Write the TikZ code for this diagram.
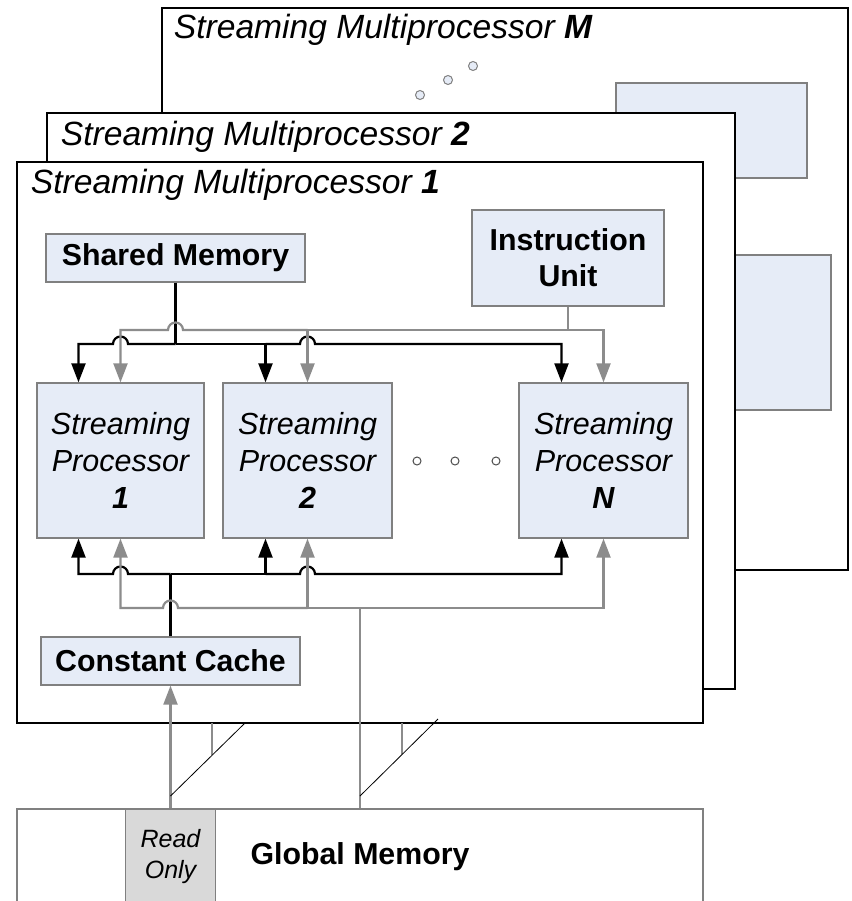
\documentclass[tikz,border=0pt]{standalone}
\usepackage{fontspec}
\setmainfont{Liberation Sans}
\usetikzlibrary{arrows.meta}
\definecolor{boxfill}{RGB}{230,236,247}
\definecolor{boxline}{RGB}{128,128,128}
\definecolor{wire}{RGB}{140,140,140}
\definecolor{rofill}{RGB}{217,217,217}
\tikzset {>={Triangle[length=19pt,width=14pt]}}
\tikzset{
  frame/.style={draw,line width=2.6pt,fill=white,inner sep=0pt},
  unit/.style={draw=boxline,line width=1.3pt,fill=boxfill,inner sep=0pt,align=center},
  lbl/.style={font=\fontsize{30.3}{36}\selectfont\bfseries},
  sptext/.style={font=\fontsize{30.5}{37}\selectfont\itshape},
  title/.style={font=\fontsize{33.6}{38}\selectfont\itshape,inner sep=0pt,anchor=base west},
  blk/.style={line width=2.2pt,black},
  gry/.style={line width=2.2pt,wire},
}

\begin{document}
\begin{tikzpicture}[x=1pt,y=-1pt]
\useasboundingbox (0,0) rectangle (851,901);
\clip (0,0) rectangle (851,901);
% the stack of multiprocessors
\node[frame,minimum width=686pt,minimum height=562pt] (smM) at (505,289) {};
\node[title] (tM) at ([shift={(13,32)}]smM.north west) {Streaming Multiprocessor \textbf{M}};
\node[unit,minimum width=191pt,minimum height=95pt] (instrM) at (711.5,130.5) {};
\node[unit,minimum width=167pt,minimum height=155pt] (spM) at (747.5,332.5) {};
\foreach \x/\y in {420/95,448/80,473/66}
  \filldraw[draw=boxline,fill=boxfill,line width=1pt] (\x,\y) circle(4.5pt);
\node[frame,minimum width=688pt,minimum height=576pt] (sm2) at (391,401) {};
\node[title] (t2) at ([shift={(15,34)}]sm2.north west) {Streaming Multiprocessor \textbf{2}};
\node[frame,minimum width=686pt,minimum height=561pt] (sm1) at (360,442.5) {};
\node[title] (t1) at ([shift={(15,33)}]sm1.north west) {Streaming Multiprocessor \textbf{1}};
% global memory
\node[draw=boxline,line width=1.3pt,fill=white,minimum width=686pt,minimum height=96pt,lbl] (global) at (360,857) {Global Memory};
\node[draw=boxline,line width=1.3pt,fill=rofill,minimum width=90pt,minimum height=96pt,
  align=center,font=\fontsize{25}{31}\selectfont\itshape] (ronly) at (170.5,857) {Read\\Only};
% units inside SM 1
\node[unit,lbl,minimum width=259pt,minimum height=48pt] (shmem) at (175.5,258) {Shared Memory};
\node[unit,lbl,minimum width=192pt,minimum height=96pt] (instr) at (568,258) {Instruction\\Unit};
\node[unit,lbl,minimum width=259pt,minimum height=48pt] (const) at (170.5,661) {Constant Cache};
\node[unit,sptext,minimum width=167pt,minimum height=155pt] (sp1) at (120.5,460.5) {Streaming\\Processor\\\textbf{1}};
\node[unit,sptext,minimum width=169pt,minimum height=155pt] (sp2) at (307.5,460.5) {Streaming\\Processor\\\textbf{2}};
\node[unit,sptext,minimum width=169pt,minimum height=155pt] (spN) at (603.5,460.5) {Streaming\\Processor\\\textbf{N}};
\foreach \x in {417,455,496}
  \draw[draw=black!70,line width=1pt] (\x,461) circle(4pt);
% bus levels and black tap points
\coordinate (ug) at (0,330);
\coordinate (ub) at (0,344);
\coordinate (lb) at (0,574);
\coordinate (lg) at (0,608);
\foreach \s in {1,2,N} {
  \coordinate (k\s) at ([xshift=-42pt]sp\s.north);
  \coordinate (m\s) at ([xshift=-42pt]sp\s.south);
}
% shared memory bus
\draw[blk] (shmem.south) -- (shmem.south |- ub) coordinate (jb);
\draw[blk,->] (jb) -- ([xshift=7.5pt]sp1.north |- ub) arc[start angle=0,end angle=180,radius=7.5pt] -- (k1 |- ub) -- (k1);
\draw[blk,->] (jb) -- (k2 |- ub) -- (k2);
\draw[blk,->] (k2 |- ub) -- ([xshift=-7.5pt]sp2.north |- ub) arc[start angle=180,end angle=0,radius=7.5pt] -- (kN |- ub) -- (kN);
% instruction bus
\draw[gry] (instr.south) -- (instr.south |- ug) coordinate (jg);
\draw[gry,->] (jg) -- (spN.north |- ug) -- (spN.north);
\draw[gry,->] (jg) -- (sp2.north |- ug) -- (sp2.north);
\draw[gry,->] (sp2.north |- ug) -- ([xshift=7.5pt]shmem.south |- ug) arc[start angle=0,end angle=180,radius=7.5pt] -- (sp1.north |- ug) -- (sp1.north);
% constant cache bus
\draw[blk] (const.north) -- (const.north |- lb) coordinate (jc);
\draw[blk,->] (jc) -- ([xshift=7.5pt]sp1.south |- lb) arc[start angle=0,end angle=180,radius=7.5pt] -- (m1 |- lb) -- (m1);
\draw[blk,->] (jc) -- (m2 |- lb) -- (m2);
\draw[blk,->] (m2 |- lb) -- ([xshift=-7.5pt]sp2.south |- lb) arc[start angle=180,end angle=0,radius=7.5pt] -- (mN |- lb) -- (mN);
% global memory bus
\draw[gry] (global.north) -- (global.north |- lg) coordinate (jm);
\draw[gry,->] (jm) -- (spN.south |- lg) -- (spN.south);
\draw[gry,->] (jm) -- (sp2.south |- lg) -- (sp2.south);
\draw[gry,->] (sp2.south |- lg) -- ([xshift=7.5pt]const.north |- lg) arc[start angle=0,end angle=180,radius=7.5pt] -- (sp1.south |- lg) -- (sp1.south);
\draw[gry,->] (ronly.north) -- (const.south);
% links from the other multiprocessors
\draw[wire,line width=1.6pt] (212,723) -- (212,755);
\draw[wire,line width=1.6pt] (402,723) -- (402,754);
\draw[line width=.8pt] (170.5,796) -- (245,723);
\draw[line width=.8pt] (360,796) -- (438,719);
\end{tikzpicture}
\end{document}
